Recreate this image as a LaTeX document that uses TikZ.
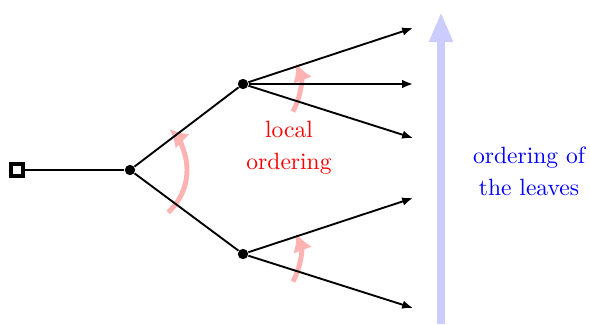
\documentclass[tikz,border=0pt]{standalone}
\usetikzlibrary{arrows.meta}
\begin{document}
\begin{tikzpicture}[x=0.425pt,y=0.425pt,
  edge/.style={line width=0.8pt,black},
  leafarr/.style={edge,-{Latex[length=4.6pt,width=3.6pt]}},
  dot/.style={circle,fill=black,inner sep=0pt,minimum size=4.4pt},
  rootbox/.style={rectangle,draw=black,fill=white,line width=1.5pt,inner sep=0pt,minimum size=5pt},
  pinkarr/.style={line width=2.1pt,red!30,-{Latex[length=7.5pt,width=8.5pt]}},
  bluearr/.style={line width=3.4pt,blue!20,-{Triangle[length=12.75pt,width=9.4pt]}},
  redtext/.style={text=red,align=center},
  bluetext/.style={text=blue,align=center}]
\useasboundingbox (0,0) rectangle (590,324);
% order ribbon
\coordinate (bb) at (441,0);
\coordinate (bt) at (441,312);
\draw[bluearr] (bb) -- (bt);
% nodes
\node[rootbox] (r) at (17,154) {};
\node[dot] (a) at (130,154) {};
\node[dot] (b) at (243,240) {};
\node[dot] (c) at (243,70) {};
\coordinate (l1) at (413,296);
\coordinate (l2) at (413,240);
\coordinate (l3) at (413,186);
\coordinate (l4) at (413,126);
\coordinate (l5) at (413,16);
% pink arcs
\draw[pinkarr] (a) ++(-48:57) arc[start angle=-48,end angle=46,radius=57];
\draw[pinkarr] (b) ++(-29:57) arc[start angle=-29,end angle=21,radius=57];
\draw[pinkarr] (c) ++(-29:57) arc[start angle=-29,end angle=21,radius=57];
% edges
\draw[edge] (r) -- (a);
\draw[edge] (a) -- (b);
\draw[edge] (a) -- (c);
\draw[leafarr] (b) -- (l1);
\draw[leafarr] (b) -- (l2);
\draw[leafarr] (b) -- (l3);
\draw[leafarr] (c) -- (l4);
\draw[leafarr] (c) -- (l5);
% texts
\node[redtext] (lo) at (289,176) {local\\[1.5pt]ordering};
\node[bluetext] (ol) at (529,153) {ordering of\\[1.5pt]the leaves};
\end{tikzpicture}
\end{document}
